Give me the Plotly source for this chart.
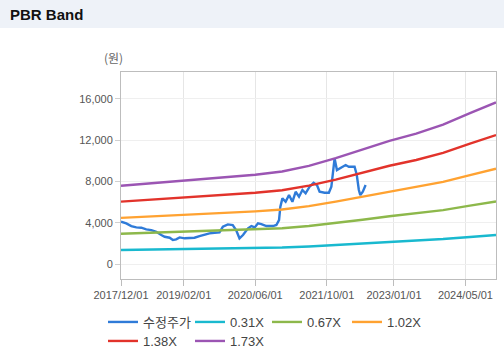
import plotly.graph_objects as go

# ---- data ----
price_dates = [
    "2017-12-01", "2018-01-06", "2018-02-09", "2018-03-15", "2018-04-18", "2018-05-22",
    "2018-06-25", "2018-07-29", "2018-09-01", "2018-09-24", "2018-10-28", "2018-11-19",
    "2018-12-11", "2019-01-04", "2019-02-07", "2019-03-12", "2019-04-15", "2019-05-19",
    "2019-06-22", "2019-07-26", "2019-08-29", "2019-10-02", "2019-10-25", "2019-11-28",
    "2019-12-31", "2020-01-23", "2020-02-15", "2020-03-10", "2020-04-13", "2020-05-06",
    "2020-05-29", "2020-06-20", "2020-07-13", "2020-08-16", "2020-09-30", "2020-10-23",
    "2020-11-10", "2020-11-19", "2020-12-03", "2020-12-25", "2021-01-17", "2021-02-09",
    "2021-03-03", "2021-03-26", "2021-04-18", "2021-05-10", "2021-06-06", "2021-07-03",
    "2021-07-26", "2021-08-13", "2021-09-16", "2021-10-15", "2021-11-01", "2021-11-12",
    "2021-11-23", "2021-12-09", "2021-12-27", "2022-01-18", "2022-02-06", "2022-02-28",
    "2022-04-08", "2022-04-23", "2022-05-07", "2022-05-17", "2022-06-03", "2022-06-22",
]
price_values = [
    4100, 3940, 3680, 3550, 3520, 3360,
    3290, 3130, 2810, 2640, 2550, 2320,
    2390, 2580, 2490, 2490, 2550, 2710,
    2870, 2970, 3030, 3070, 3610, 3840,
    3780, 3290, 2490, 2810, 3460, 3680,
    3550, 3940, 3870, 3680, 3680, 3780,
    4260, 5550, 6360, 6030, 6680, 6030,
    7000, 6520, 7170, 6850, 7490, 7870,
    7650, 7000, 6900, 6900, 7490, 9100,
    10230, 9100, 9270, 9420, 9590, 9420,
    9420, 8620, 7170, 6680, 7000, 7650,
]

band_dates = [
    "2017-12-01", "2018-06-01", "2018-12-01", "2019-06-01", "2019-12-01",
    "2020-06-01", "2020-12-01", "2021-06-01", "2021-12-01", "2022-06-01",
    "2022-12-01", "2023-06-01", "2023-12-01", "2024-06-01", "2024-11-25",
]
band_031 = [1358, 1395, 1435, 1476, 1513, 1550, 1606, 1705, 1838, 1984, 2139, 2263, 2418, 2620, 2806]
band_067 = [2935, 3015, 3102, 3189, 3270, 3350, 3471, 3685, 3973, 4288, 4623, 4891, 5226, 5662, 6064]
band_102 = [4468, 4590, 4723, 4855, 4978, 5100, 5284, 5610, 6049, 6528, 7038, 7446, 7956, 8619, 9231]
band_138 = [6044, 6210, 6389, 6569, 6734, 6900, 7148, 7590, 8183, 8832, 9522, 10074, 10764, 11661, 12489]
band_173 = [7577, 7785, 8010, 8235, 8442, 8650, 8961, 9515, 10259, 11072, 11937, 12629, 13494, 14619, 15657]

series_names = ["수정주가", "0.31X", "0.67X", "1.02X", "1.38X", "1.73X"]
series_colors = ["#2f7bd8", "#19b9cf", "#8db84b", "#ffa231", "#e2332b", "#9b55b3"]

x_tick_vals = ["2017-12-01", "2019-02-01", "2020-06-01", "2021-10-01", "2023-01-01", "2024-05-01"]
x_tick_text = ["2017/12/01", "2019/02/01", "2020/06/01", "2021/10/01", "2023/01/01", "2024/05/01"]
y_tick_vals = [0, 4000, 8000, 12000, 16000]

# ---- figure ----
PW, PH = 375, 207
legend_ids = ["legend", "legend2", "legend3", "legend4", "legend5", "legend6"]
# legend placement (pixels, left edge / top edge) -- 4 entries on row 1, 2 on row 2
legend_px = [(103, 307), (190, 307), (267, 307), (347, 307), (103, 326), (190, 326)]

fig = go.Figure()
all_x = [price_dates] + [band_dates] * 5
all_y = [price_values, band_031, band_067, band_102, band_138, band_173]
for nm, col, lid, xs, ys in zip(series_names, series_colors, legend_ids, all_x, all_y):
    fig.add_trace(go.Scatter(x=xs, y=ys, mode="lines", name=nm, legend=lid,
                             line=dict(color=col, width=2.4)))

grid = "#e6e6e6"
axis_line = "#bdbdbd"
tick_font = dict(family="Arial, Liberation Sans, sans-serif", size=11, color="#555555")
leg_font = dict(size=13, color="#444444",
                family="Arial, Liberation Sans, Noto Sans CJK KR, sans-serif")

legends = {}
for lid, (lx, ly) in zip(legend_ids, legend_px):
    legends[lid] = dict(orientation="h", x=(lx - 121) / PW, xanchor="left",
                        y=-(ly - 279) / PH, yanchor="top", font=leg_font,
                        itemwidth=30, bgcolor="rgba(0,0,0,0)")

fig.update_layout(
    width=504, height=354,
    margin=dict(l=121, r=8, t=72, b=75, autoexpand=False),
    paper_bgcolor="#ffffff", plot_bgcolor="#ffffff",
    font=dict(family="Arial, Liberation Sans, Noto Sans CJK KR, sans-serif", color="#444444"),
    showlegend=True,
    xaxis=dict(type="date", range=["2017-12-01", "2024-11-25"],
               tickvals=x_tick_vals, ticktext=x_tick_text, tickfont=tick_font,
               showgrid=True, gridcolor=grid, gridwidth=1,
               showline=True, linecolor=axis_line, linewidth=1, mirror=True,
               ticks="outside", ticklen=6, tickcolor=axis_line, zeroline=False),
    yaxis=dict(range=[-1450, 18600], tickvals=y_tick_vals, tickformat=",d",
               tickfont=tick_font, showgrid=True, gridcolor="#efefef", gridwidth=1,
               showline=True, linecolor=axis_line, linewidth=1, mirror=True,
               ticks="outside", ticklen=5, tickcolor="#d0d0d0", zeroline=False),
    **legends,
)

# header bar
fig.add_shape(type="rect", xref="paper", yref="paper", x0=-121 / PW, x1=1 + 8 / PW,
              y0=1 + (72 - 28) / PH, y1=1 + 72 / PH, line=dict(width=0),
              fillcolor="#eef2f8", layer="below")
fig.add_annotation(text="<b>PBR Band</b>", xref="paper", yref="paper",
                   x=-113 / PW, y=1 + (72 - 14) / PH, xanchor="left", yanchor="middle",
                   showarrow=False, font=dict(size=15, color="#111111",
                                              family="Arial, Liberation Sans, sans-serif"))
fig.add_annotation(text="(원)", xref="paper", yref="paper",
                   x=-8 / PW, y=1 + (72 - 58) / PH, xanchor="center", yanchor="middle",
                   showarrow=False, font=dict(size=12, color="#666666",
                                              family="Noto Sans CJK KR, sans-serif"))

fig.write_html("out.html")
